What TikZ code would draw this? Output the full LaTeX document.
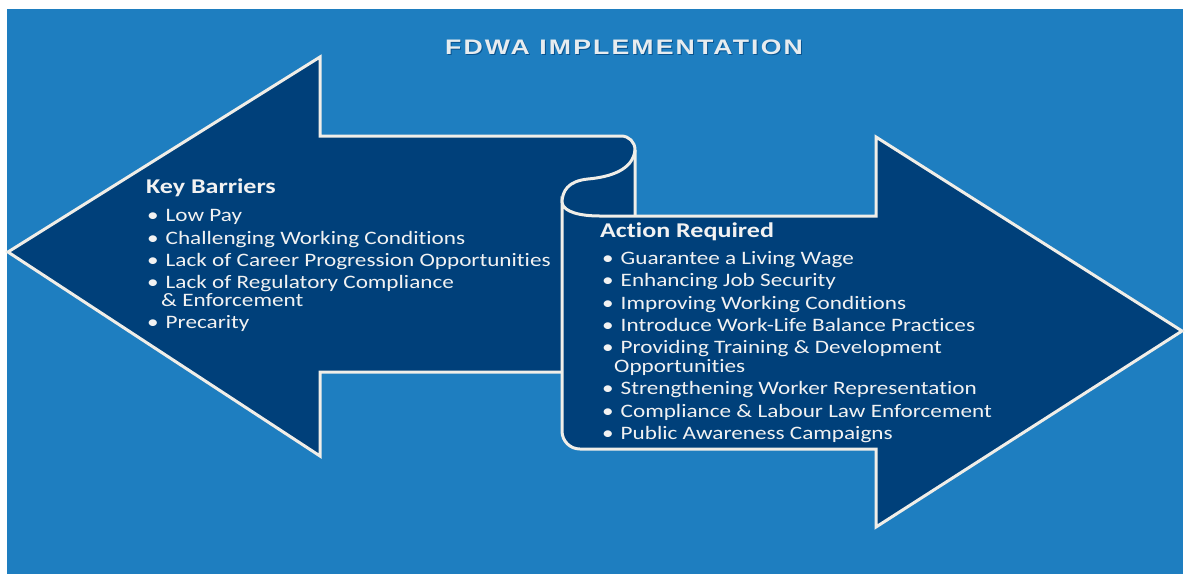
\documentclass[tikz,border=0pt]{standalone}
\usepackage{fontspec}
\setmainfont{Carlito}
\newfontfamily\bodyfont[FakeStretch=1.22,Ligatures=NoCommon]{Carlito}
\newfontfamily\headfont[FakeStretch=1.24,Ligatures=NoCommon]{Carlito}
\newfontfamily\titlefont[FakeStretch=1.27,LetterSpace=10]{Liberation Sans}
\usetikzlibrary{positioning}

\definecolor{skyblue}{RGB}{30,126,192}
\definecolor{navy}{RGB}{0,64,122}
\definecolor{rim}{RGB}{240,238,232}
\definecolor{ink}{RGB}{242,242,242}

\newcommand{\itembul}{•\hspace{7pt}}

\begin{document}
\begin{tikzpicture}[x=1pt,y=-1pt,
  arrowshape/.style={fill=navy,draw=rim,line width=3pt},
  title/.style={font=\titlefont\bfseries\fontsize{21}{25}\selectfont,text=ink!95!skyblue},
  heading/.style={font=\headfont\bfseries\fontsize{21}{25}\selectfont,text=ink,inner sep=0pt},
  itemlist/.style={font=\bodyfont\fontsize{19}{22.2}\selectfont,text=ink,align=left,inner sep=0pt}]
  \useasboundingbox (0,0) rectangle (1185,574);
  \fill[white] (0,0) rectangle (1185,574);
  \fill[skyblue] (7,9) rectangle (1183,574);

  % title with a soft drop shadow
  \node[title,text=navy!70!skyblue] at (625,48) {FDWA IMPLEMENTATION};
  \node[title] (title) at (624,47) {FDWA IMPLEMENTATION};

  % left arrow, its shaft runs under the scroll
  \draw[arrowshape] (8,252) -- (320,57) -- (320,136) -- (621,136)
    .. controls (629,136) and (635,142) .. (635,150) -- (635,372)
    -- (320,372) -- (320,456) -- cycle;
  % right arrow, rolled up at its left end
  \draw[arrowshape] (562,203) .. controls (564,212) and (580,216) .. (600,216)
    -- (876,216) -- (876,137) -- (1182,331) -- (876,527) -- (876,449)
    -- (580,449) .. controls (570,449) and (562,441) .. (562,431) -- cycle;
  % lip of the scroll
  \draw[rim,line width=3pt] (635,150) .. controls (633,170) and (610,177) .. (588,179)
    .. controls (568,181) and (562,191) .. (562,203);

  \node[heading,anchor=base west] (barriers) at (146,193) {Key Barriers};
  \node[itemlist,below right=13pt and 1pt of barriers.south west] (barrierlist) {%
    \itembul Low Pay\\
    \itembul Challenging Working Conditions\\
    \itembul Lack of Career Progression Opportunities\\
    \itembul Lack of Regulatory Compliance\\[-4pt]
    \hspace*{14pt}\& Enforcement\\
    \itembul Precarity};

  \node[heading,anchor=base west] (actions) at (600,237) {Action Required};
  \node[itemlist,below right=11pt and 2pt of actions.south west] (actionlist) {%
    \itembul Guarantee a Living Wage\\
    \itembul Enhancing Job Security\\
    \itembul Improving Working Conditions\\
    \itembul Introduce Work-Life Balance Practices\\
    \itembul Providing Training \& Development\\[-3pt]
    \hspace*{12pt}Opportunities\\
    \itembul Strengthening Worker Representation\\
    \itembul Compliance \& Labour Law Enforcement\\
    \itembul Public Awareness Campaigns};
\end{tikzpicture}
\end{document}
